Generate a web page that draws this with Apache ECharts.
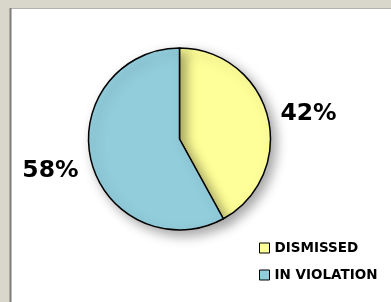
<!DOCTYPE html>
<html>
<head>
<meta charset="utf-8">
<script src="https://cdn.jsdelivr.net/npm/echarts@6/dist/echarts.min.js"></script>
<style>
  html, body { margin: 0; padding: 0; background: #d9d6cc; }
  #chart { width: 391px; height: 302px; }
</style>
</head>
<body>
<div id="chart"></div>
<script>
// slice names and values (percent of cases)
const categories = ['DISMISSED', 'IN VIOLATION'];
const values = [42, 58];
const colors = ['#ffff99', '#92cddc'];

const chart = echarts.init(document.getElementById('chart'));

const pieData = categories.map((name, i) => ({
    name,
    value: values[i],
    itemStyle: { color: colors[i] }
}));

const option = {
    backgroundColor: '#d9d6cc',
    animation: false,
    graphic: [
        // white panel with frame
        { type: 'rect', shape: { x: 10, y: 8, width: 381, height: 294 }, style: { fill: '#ffffff' }, z: -10 },
        { type: 'line', shape: { x1: 10, y1: 8.5, x2: 391, y2: 8.5 }, style: { stroke: '#b4b3ad', lineWidth: 1 }, z: -9 },
        { type: 'line', shape: { x1: 10.5, y1: 8, x2: 10.5, y2: 302 }, style: { stroke: '#7d7d7a', lineWidth: 2 }, z: -9 }
    ],
    legend: {
        orient: 'vertical',
        left: 254,
        top: 236,
        itemWidth: 10,
        itemHeight: 10,
        itemGap: 13,
        icon: 'rect',
        itemStyle: { borderColor: '#000', borderWidth: 1 },
        textStyle: {
            fontFamily: '"DejaVu Sans", sans-serif',
            fontWeight: 'bold',
            fontSize: 13.5,
            color: '#000',
            padding: [0, 0, 0, 0]
        },
        data: categories
    },
    series: [{
        type: 'pie',
        center: [179.5, 139],
        radius: 91,
        startAngle: 90,
        clockwise: true,
        itemStyle: {
            borderColor: '#000',
            borderWidth: 1.5,
            shadowBlur: 12,
            shadowOffsetX: 5,
            shadowOffsetY: 5,
            shadowColor: 'rgba(0,0,0,0.35)'
        },
        label: {
            show: true,
            position: 'outside',
            formatter: '{d}%',
            fontFamily: '"DejaVu Sans", sans-serif',
            fontWeight: 'bold',
            fontSize: 23.5,
            color: '#000',
            distanceToLabelLine: 5
        },
        labelLine: { show: false, length: 8, length2: 0 },
        labelLayout: function (params) {
            return params.dataIndex === 1 ? { dy: 7 } : { dy: 0 };
        },
        emphasis: { disabled: true },
        data: pieData
    }]
};

chart.setOption(option);
</script>
</body>
</html>
